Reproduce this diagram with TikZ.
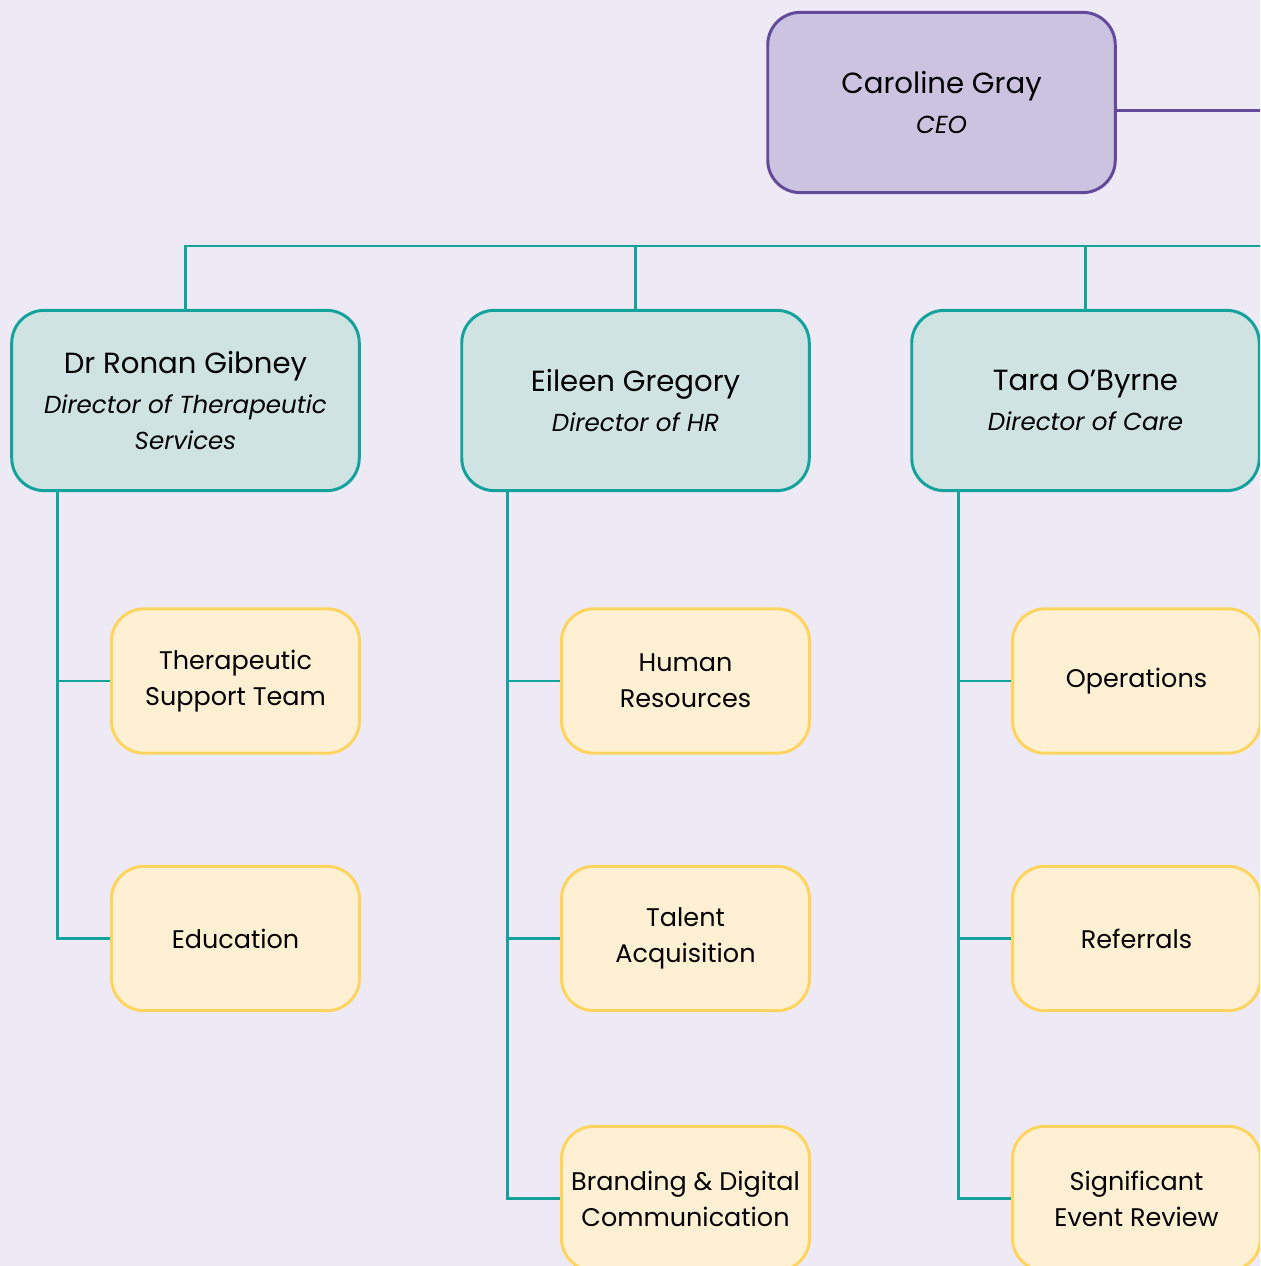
\documentclass[tikz,border=0pt]{standalone}
\usepackage{fontspec}
\setmainfont{Poppins}
\usetikzlibrary{calc}
\definecolor{bg}{HTML}{EEEAF5}
\definecolor{ceofill}{HTML}{CCC3E1}
\definecolor{ceoline}{HTML}{654A9B}
\definecolor{dirfill}{HTML}{CFE3E2}
\definecolor{teal}{HTML}{14A39C}
\definecolor{unitfill}{HTML}{FFF0D4}
\definecolor{unitline}{HTML}{FFD45E}
\tikzset{
  box/.style={rectangle, rounded corners=18.5pt, line width=1.7pt, align=center, inner sep=0pt},
  ceobox/.style={box, draw=ceoline, fill=ceofill, minimum width=197.8pt, minimum height=102.6pt, font=\fontsize{14pt}{20.4pt}\selectfont},
  dirbox/.style={box, draw=teal, fill=dirfill, minimum width=197.8pt, minimum height=102.6pt, font=\fontsize{14pt}{20.4pt}\selectfont},
  unitbox/.style={box, draw=unitline, fill=unitfill, minimum width=141.2pt, minimum height=82.2pt, font=\fontsize{14.5pt}{20.4pt}\selectfont},
  tealline/.style={draw=teal, line width=1.7pt},
  purpline/.style={draw=ceoline, line width=1.7pt},
}
\newcommand{\nm}[1]{{\fontsize{16.6pt}{20.4pt}\selectfont #1}}
\newcommand{\ttl}[1]{{\itshape #1}}
\begin{document}
\begin{tikzpicture}[x=0.02cm, y=-0.02cm]
\clip (0,0) rectangle (1260,1266);
\fill[bg] (0,0) rectangle (1260,1266);
\coordinate (ceoR) at (1275,111);
\coordinate (busL) at (185.5,246);
\coordinate (busR) at (1275,246);

\node[ceobox] (ceo) at (941.5,102.5) {\nm{Caroline Gray}\\[2pt]\ttl{CEO}};

\node[dirbox] (d1) at (185.5,400.5) {\nm{Dr Ronan Gibney}\\[2pt]\ttl{Director of Therapeutic}\\\ttl{Services}};
\node[dirbox] (d2) at (635.5,400.5) {\nm{Eileen Gregory}\\[2pt]\ttl{Director of HR}};
\node[dirbox] (d3) at (1085.5,400.5) {\nm{Tara O’Byrne}\\[2pt]\ttl{Director of Care}};

\node[unitbox] (u11) at (235.5,681) {Therapeutic\\Support Team};
\node[unitbox] (u12) at (235.5,938.5) {Education};
\node[unitbox] (u21) at (685.5,681) {Human\\Resources};
\node[unitbox] (u22) at (685.5,938.5) {Talent\\Acquisition};
\node[unitbox] (u23) at (685.5,1198.5) {Branding \& Digital\\Communication};
\node[unitbox] (u31) at (1136.5,681) {Operations};
\node[unitbox] (u32) at (1136.5,938.5) {Referrals};
\node[unitbox] (u33) at (1136.5,1198.5) {Significant\\Event Review};

\draw[purpline] (ceoR) -- (ceoR -| ceo.east);
\draw[tealline] (busR) -- (busL) -- (d1.north);
\draw[tealline] (d2.north) -- (d2.north |- busL);
\draw[tealline] (d3.north) -- (d3.north |- busL);

\coordinate (s1) at ($(d1.south west)+(47,0)$);
\coordinate (s2) at ($(d2.south west)+(47,0)$);
\coordinate (s3) at ($(d3.south west)+(48,0)$);
\draw[tealline] (s1) |- (u12.west);
\draw[tealline] (u11.west) -- (u11.west -| s1);
\draw[tealline] (s2) |- (u23.west);
\draw[tealline] (u21.west) -- (u21.west -| s2);
\draw[tealline] (u22.west) -- (u22.west -| s2);
\draw[tealline] (s3) |- (u33.west);
\draw[tealline] (u31.west) -- (u31.west -| s3);
\draw[tealline] (u32.west) -- (u32.west -| s3);
\end{tikzpicture}
\end{document}
